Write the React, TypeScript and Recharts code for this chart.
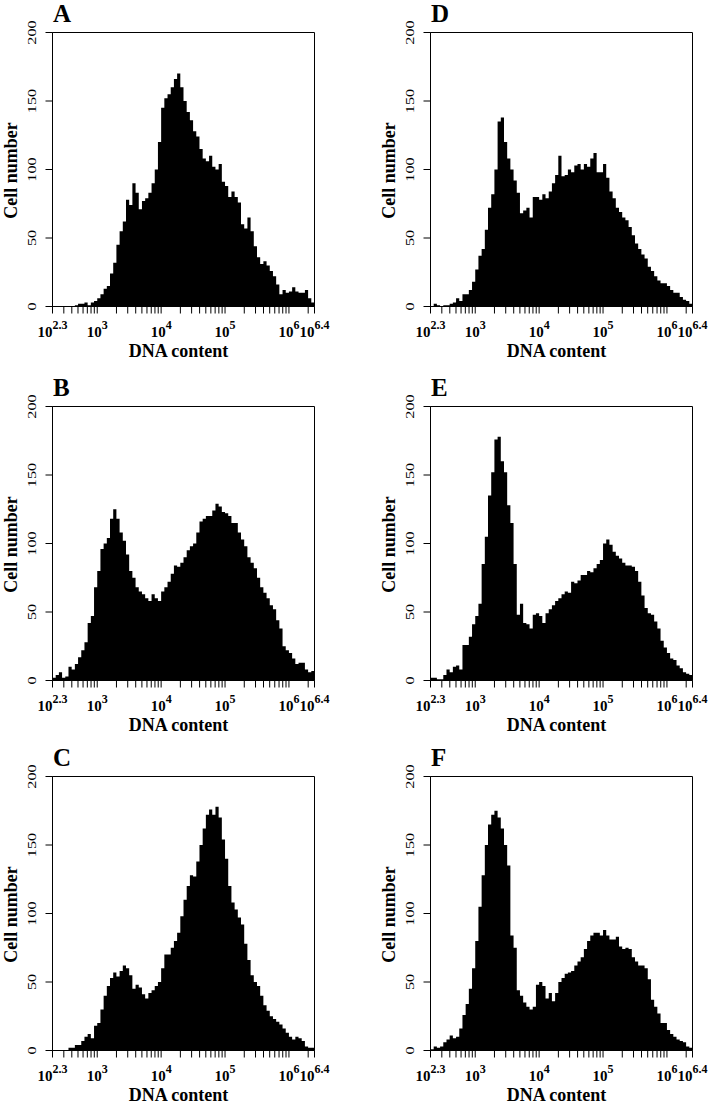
import React from 'react';
import { ComposedChart, Area, XAxis, YAxis, ReferenceArea } from 'recharts';

// Histogram bins: log10(DNA content) from 2.30 in steps of 0.05
const BIN_START = 2.3;
const BIN_WIDTH = 0.05;
const AXIS_MIN = 2.3;
const AXIS_MAX = 6.4;

const countsA = [0,0,0,0,0,0,0,1,2,2,3,1,3,4,6,9,13,15,24,32,45,55,62,78,74,90,83,71,77,79,83,90,100,120,145,152,155,160,166,170,160,150,142,136,128,124,115,108,106,110,102,100,104,91,88,80,84,80,76,60,57,65,55,44,36,31,33,30,26,22,16,9,12,10,11,14,11,10,10,12,6,3];
const countsB = [2,4,6,2,3,10,8,12,17,22,28,42,47,68,80,96,100,104,118,125,118,108,102,92,80,75,68,65,63,60,58,63,60,58,65,68,72,78,84,83,86,90,95,98,100,108,116,118,120,120,124,129,127,123,122,120,115,115,108,103,98,90,86,82,75,68,64,60,55,52,44,38,25,22,20,16,12,13,13,8,6,7];
const countsC = [0,0,0,0,0,2,2,4,4,7,10,12,9,18,20,30,40,47,53,57,54,58,62,60,55,45,48,46,41,38,42,44,47,50,60,70,70,75,80,86,98,110,120,128,127,138,150,162,172,176,172,178,170,154,140,120,108,103,97,92,78,66,55,50,47,40,33,29,25,23,21,19,16,13,10,8,10,9,7,3,2,2];
const countsD = [0,2,1,0,1,1,2,3,6,4,9,9,12,18,27,37,42,56,72,82,100,135,138,120,108,100,92,83,68,70,72,65,80,80,78,82,79,84,90,96,110,95,96,100,98,103,104,100,104,102,108,112,98,98,104,94,84,79,72,69,65,63,58,52,46,42,38,35,29,26,22,19,17,17,15,12,10,10,7,5,4,2];
const countsE = [2,2,1,1,4,8,6,10,11,8,26,26,32,41,47,56,85,105,135,152,176,178,160,152,128,115,85,48,56,42,41,38,48,49,47,42,49,52,55,58,60,63,65,64,72,71,73,77,77,80,79,82,85,88,100,103,99,94,91,89,86,84,84,83,80,72,62,53,49,48,43,38,29,24,20,16,15,11,9,6,5,4];
const countsF = [1,3,2,3,6,8,11,9,10,16,26,34,45,60,80,105,128,150,165,172,175,170,162,150,135,84,75,44,40,35,32,30,32,48,50,47,38,42,36,42,50,53,56,57,58,62,65,68,74,80,84,86,86,84,88,84,81,81,83,76,74,75,74,68,65,62,62,60,52,37,32,27,20,20,15,12,10,8,7,6,3,2];

const panelNames = ['A', 'B', 'C', 'D', 'E', 'F'];
const yTicks = [0, 50, 100, 150, 200];
const xMajorTicks = [2.3, 3, 4, 5, 6, 6.4];
const xMajorExponents = ['2.3', '3', '4', '5', '6', '6.4'];
const xMinorValues = [
  300, 400, 500, 600, 700, 800, 900,
  2000, 3000, 4000, 5000, 6000, 7000, 8000, 9000,
  20000, 30000, 40000, 50000, 60000, 70000, 80000, 90000,
  200000, 300000, 400000, 500000, 600000, 700000, 800000, 900000,
  2000000,
];
const yAxisTitle = 'Cell number';
const xAxisTitle = 'DNA content';

const xTickPositions = [...xMajorTicks, ...xMinorValues.map((v) => Math.log10(v))].sort((a, b) => a - b);

const FONT = '"Liberation Serif", "Times New Roman", serif';

const CHART_W = 330;
const CHART_H = 370;
const M_TOP = 32.5;
const Y_AXIS_W = 52.5;
const PLOT_H = 274;
const M_RIGHT = 15.5;
const X_AXIS_H = CHART_H - M_TOP - PLOT_H;

const colLefts = [0, 378];
const rowTops = [0, 374, 744];

const panels = [
  { name: panelNames[0], counts: countsA, col: 0, row: 0 },
  { name: panelNames[1], counts: countsB, col: 0, row: 1 },
  { name: panelNames[2], counts: countsC, col: 0, row: 2 },
  { name: panelNames[3], counts: countsD, col: 1, row: 0 },
  { name: panelNames[4], counts: countsE, col: 1, row: 1 },
  { name: panelNames[5], counts: countsF, col: 1, row: 2 },
];

const buildRows = (counts: number[]) => [
  ...counts.map((c, i) => ({ x: BIN_START + i * BIN_WIDTH, y: c })),
  { x: AXIS_MAX, y: counts[counts.length - 1] },
];

const XTick = (props: any) => {
  const { x, y, payload } = props;
  const idx = xMajorTicks.findIndex((v) => Math.abs(v - payload.value) < 1e-9);
  if (idx < 0) return null;
  return (
    <text x={x} y={y + 21} textAnchor="middle" fontFamily={FONT} fontWeight="bold" fontSize={15} fill="#000">
      <tspan>10</tspan>
      <tspan dy={-7.5} fontSize={12}>{xMajorExponents[idx]}</tspan>
    </text>
  );
};

const YTick = (props: any) => {
  const { x, y, payload } = props;
  const bx = x - 8;
  return (
    <text
      x={0}
      y={0}
      transform={`translate(${bx} ${y}) rotate(-90) scale(1.35 1)`}
      textAnchor="middle"
      fontFamily={FONT}
      fontSize={12}
      fill="#000"
    >
      {payload.value}
    </text>
  );
};

const Panel = ({ counts }: { counts: number[] }) => (
  <ComposedChart
    width={CHART_W}
    height={CHART_H}
    data={buildRows(counts)}
    margin={{ top: M_TOP, right: M_RIGHT, left: 0, bottom: 0 }}
  >
    <XAxis
      dataKey="x"
      type="number"
      domain={[AXIS_MIN, AXIS_MAX]}
      allowDataOverflow
      ticks={xTickPositions}
      interval={0}
      tickSize={7}
      tickMargin={2}
      height={X_AXIS_H}
      stroke="#000"
      tick={<XTick />}
    />
    <YAxis
      type="number"
      domain={[0, 200]}
      ticks={yTicks}
      interval={0}
      tickSize={7}
      tickMargin={2}
      width={Y_AXIS_W}
      stroke="#000"
      tick={<YTick />}
    />
    <Area
      type="stepAfter"
      dataKey="y"
      stroke="none"
      fill="#000"
      fillOpacity={1}
      isAnimationActive={false}
      dot={false}
      activeDot={false}
    />
    <ReferenceArea
      x1={AXIS_MIN}
      x2={AXIS_MAX}
      y1={0}
      y2={200}
      fill="none"
      fillOpacity={0}
      stroke="#000"
      strokeWidth={1}
      ifOverflow="visible"
    />
  </ComposedChart>
);

export default function App() {
  return (
    <div style={{ position: 'absolute', left: 0, top: 0, width: 710, height: 1106, background: '#fff' }}>
      {panels.map((p) => (
        <div key={p.name} style={{ position: 'absolute', left: colLefts[p.col], top: rowTops[p.row] }}>
          <Panel counts={p.counts} />
        </div>
      ))}
      <svg width={710} height={1106} style={{ position: 'absolute', left: 0, top: 0, pointerEvents: 'none' }}>
        {panels.map((p) => {
          const pl = colLefts[p.col] + Y_AXIS_W;
          const pt = rowTops[p.row] + M_TOP;
          const pb = pt + PLOT_H;
          const cy = pt + PLOT_H / 2 + 1;
          const tx = pl - 36;
          return (
            <g key={p.name} fontFamily={FONT} fontWeight="bold" fill="#000">
              <text x={pl + 0.5} y={pt - 10.5} fontSize={25}>{p.name}</text>
              <text x={tx} y={cy} fontSize={18} textAnchor="middle" transform={`rotate(-90 ${tx} ${cy})`}>{yAxisTitle}</text>
              <text x={pl + 126} y={pb + 50.5} fontSize={18} textAnchor="middle">{xAxisTitle}</text>
            </g>
          );
        })}
      </svg>
    </div>
  );
}
